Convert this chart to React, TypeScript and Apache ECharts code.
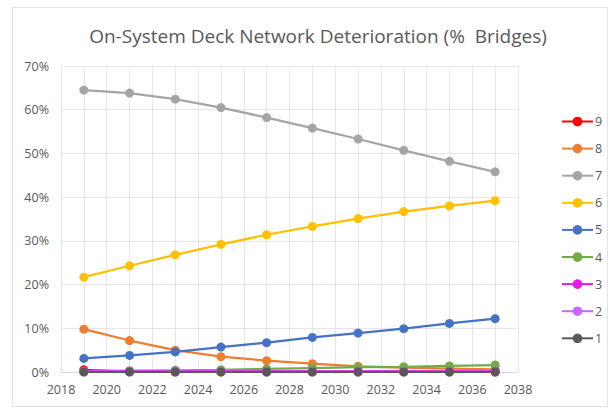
import React, { useEffect, useRef } from "react";
import * as echarts from "echarts";

const titleText = "On-System Deck Network Deterioration (%  Bridges)";
const years = [2019, 2021, 2023, 2025, 2027, 2029, 2031, 2033, 2035, 2037];
const legendOrder = ["9", "8", "7", "6", "5", "4", "3", "2", "1"];

const s9 = [0.5, 0.1, 0.05, 0.05, 0.05, 0.05, 0.05, 0.05, 0.05, 0.05];
const s8 = [9.8, 7.2, 5.0, 3.5, 2.6, 1.9, 1.3, 1.0, 0.8, 0.6];
const s7 = [64.5, 63.8, 62.4, 60.5, 58.2, 55.8, 53.3, 50.7, 48.2, 45.8];
const s6 = [21.7, 24.3, 26.8, 29.2, 31.4, 33.3, 35.1, 36.7, 38.0, 39.2];
const s5 = [3.1, 3.8, 4.6, 5.7, 6.7, 7.9, 8.9, 9.9, 11.1, 12.2];
const s4 = [0.2, 0.3, 0.4, 0.5, 0.7, 0.9, 1.1, 1.2, 1.4, 1.6];
const s3 = [0.2, 0.2, 0.2, 0.2, 0.2, 0.2, 0.2, 0.2, 0.2, 0.2];
const s2 = [0.1, 0.1, 0.1, 0.1, 0.1, 0.1, 0.1, 0.1, 0.1, 0.1];
const s1 = [0.0, 0.0, 0.0, 0.0, 0.0, 0.0, 0.0, 0.0, 0.0, 0.0];

const seriesDefs: [string, number[], string][] = [
  ["9", s9, "#FF0000"],
  ["8", s8, "#ED7D31"],
  ["7", s7, "#A5A5A5"],
  ["6", s6, "#FFC000"],
  ["5", s5, "#4472C4"],
  ["4", s4, "#70AD47"],
  ["3", s3, "#E619E6"],
  ["2", s2, "#CC66FF"],
  ["1", s1, "#595959"],
];

const FONT = "'Open Sans', sans-serif";

export default function App() {
  const ref = useRef<HTMLDivElement>(null);
  useEffect(() => {
    if (!ref.current) return;
    const chart = echarts.init(ref.current, undefined, { renderer: "svg" });
    chart.setOption({
      animation: false,
      backgroundColor: "#ffffff",
      title: {
        text: titleText,
        left: 313,
        top: 21,
        textAlign: "center",
        textStyle: { fontFamily: FONT, fontSize: 19, fontWeight: "normal", color: "#595959" },
      },
      graphic: [
        {
          type: "rect",
          shape: { x: 12.5, y: 7.5, width: 595, height: 399 },
          style: { fill: "none", stroke: "#e3e3e3", lineWidth: 1 },
          silent: true,
        },
      ],
      legend: {
        orient: "vertical",
        left: 556,
        top: 110,
        itemWidth: 31,
        itemHeight: 12,
        itemGap: 14.1,
        data: legendOrder,
        textStyle: { fontFamily: FONT, fontSize: 12.5, color: "#595959", padding: [0, 0, 0, -3] },
      },
      grid: { left: 61, right: 95, top: 66, bottom: 36, containLabel: false },
      xAxis: {
        type: "value",
        min: 2018,
        max: 2038,
        interval: 1,
        axisLine: { show: true, lineStyle: { color: "#d9d9d9" } },
        axisTick: { show: false },
        splitLine: { show: true, lineStyle: { color: "#e6e6e6" } },
        axisLabel: {
          fontFamily: FONT,
          fontSize: 12.5,
          color: "#595959",
          margin: 11,
          formatter: (v: number) => (v % 2 === 0 ? String(v) : ""),
        },
      },
      yAxis: {
        type: "value",
        min: 0,
        max: 70,
        interval: 10,
        axisLine: { show: false },
        axisTick: { show: false },
        splitLine: { show: true, lineStyle: { color: "#e6e6e6" } },
        axisLabel: {
          fontFamily: FONT,
          fontSize: 12.5,
          color: "#595959",
          margin: 12,
          formatter: (v: number) => v + "%",
        },
      },
      series: seriesDefs.map(([name, vals, color]) => ({
        name,
        type: "line",
        data: years.map((y, i) => [y, vals[i]]),
        symbol: "circle",
        symbolSize: 9,
        lineStyle: { color, width: 2.25 },
        itemStyle: { color },
        smooth: false,
      })),
    });
    return () => chart.dispose();
  }, []);
  return (
    <div
      ref={ref}
      style={{ position: "fixed", left: 0, top: 0, width: 613, height: 408 }}
    />
  );
}
